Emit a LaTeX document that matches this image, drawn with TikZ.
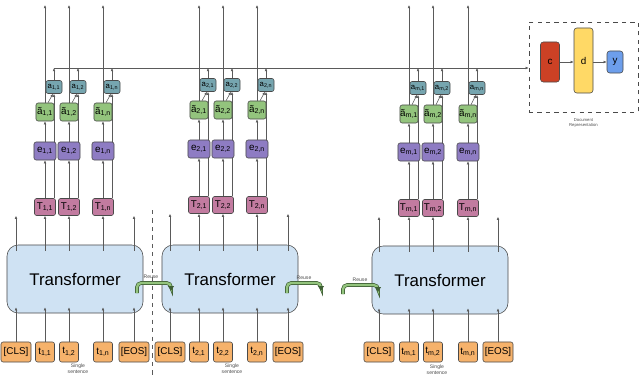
\documentclass[tikz,border=0pt]{standalone}
\usepackage{fontspec}
\setmainfont{Liberation Sans}
\usepackage{tikz}
\usetikzlibrary{arrows.meta,positioning,calc,backgrounds}

\definecolor{trblue}{HTML}{CFE2F3}
\definecolor{inorange}{HTML}{F6B26B}
\definecolor{tpink}{HTML}{C27BA0}
\definecolor{epurple}{HTML}{8E7CC3}
\definecolor{agreen}{HTML}{93C47D}
\definecolor{ateal}{HTML}{76A5AF}
\definecolor{cred}{HTML}{CC4125}
\definecolor{dyellow}{HTML}{FFD966}
\definecolor{yblue}{HTML}{6D9EEB}
\definecolor{bordr}{HTML}{4A4A4A}
\definecolor{linegray}{HTML}{5A5A5A}
\definecolor{ruedge}{HTML}{3F5F35}

\begin{document}
\begin{tikzpicture}[x=0.025cm,y=-0.025cm,
  trans/.style={draw=bordr,fill=trblue,rounded corners=8pt,minimum width=3.4cm,minimum height=1.7cm,font=\fontsize{12}{14}\selectfont},
  inp/.style={draw=bordr,fill=inorange,rounded corners=1.5pt,minimum height=0.5cm,minimum width=0.475cm,inner sep=0pt,font=\fontsize{7}{8}\selectfont},
  wide/.style={minimum width=0.75cm},
  tbox/.style={draw=bordr,fill=tpink,rounded corners=1.5pt,minimum width=0.525cm,minimum height=0.425cm,inner sep=0pt,font=\fontsize{7}{8}\selectfont},
  ebox/.style={draw=bordr,fill=epurple,rounded corners=1.5pt,minimum width=0.55cm,minimum height=0.45cm,inner sep=0pt,font=\fontsize{7}{8}\selectfont},
  atil/.style={draw=bordr,fill=agreen,rounded corners=1.5pt,minimum width=0.45cm,minimum height=0.45cm,inner sep=0pt,font=\fontsize{7}{8}\selectfont},
  abox/.style={draw=bordr,fill=ateal,rounded corners=1.5pt,minimum width=0.4cm,minimum height=0.325cm,inner sep=0pt,font=\fontsize{5.5}{6}\selectfont},
  docbox/.style={draw=bordr,dashed,minimum width=2.725cm,minimum height=2.25cm},
  outbox/.style={draw=bordr,rounded corners=2pt,minimum width=0.475cm,inner sep=0pt,font=\fontsize{7}{8}\selectfont},
  tiny/.style={align=center,text=black!70,font=\fontsize{3.6}{4.2}\selectfont},
  arrow/.style={-{Latex[length=0.8mm,width=0.7mm]},draw=linegray,line width=0.4pt},
  reuse/.style={draw=ruedge,double=agreen,double distance=1.6pt,line width=0.5pt,rounded corners=3pt,-{Latex[length=1.2mm,width=1.6mm]}}
]
\useasboundingbox (0,0) rectangle (640,375);
\coordinate (topline) at (0,5);
\coordinate (hline) at (0,68);

% sentence 1
\node[trans] (tr1) at (75,279) {Transformer};
\node[inp,wide] (cls1) at (16,352) {[CLS]};
\node[inp] (tok11) at (45,352) {t\textsubscript{1,1}};
\node[inp] (tok12) at (69,352) {t\textsubscript{1,2}};
\node[inp] (tok1n) at (103,352) {t\textsubscript{1,n}};
\node[inp,wide] (eos1) at (134,352) {[EOS]};
\node[tbox] (T11) at (45,207) {T\textsubscript{1,1}};
\node[tbox] (T12) at (69,207) {T\textsubscript{1,2}};
\node[tbox] (T1n) at (103,207) {T\textsubscript{1,n}};
\node[ebox] (e11) at (45,151) {e\textsubscript{1,1}};
\node[ebox] (e12) at (69,151) {e\textsubscript{1,2}};
\node[ebox] (e1n) at (103,151) {e\textsubscript{1,n}};
\node[atil] (at11) at (45,112) {ã\textsubscript{1,1}};
\node[atil] (at12) at (69,112) {ã\textsubscript{1,2}};
\node[atil] (at1n) at (103,112) {ã\textsubscript{1,n}};
\node[abox] (a11) at (54,87) {a\textsubscript{1,1}};
\node[abox] (a12) at (78,87) {a\textsubscript{1,2}};
\node[abox] (a1n) at (112,87) {a\textsubscript{1,n}};
\node[tiny] (ss1) at (78,369) {Single\\sentence};

% sentence 2
\node[trans] (tr2) at (230,279) {Transformer};
\node[inp,wide] (cls2) at (170,352) {[CLS]};
\node[inp] (tok21) at (199,352) {t\textsubscript{2,1}};
\node[inp] (tok22) at (223,352) {t\textsubscript{2,2}};
\node[inp] (tok2n) at (257,352) {t\textsubscript{2,n}};
\node[inp,wide] (eos2) at (288,352) {[EOS]};
\node[tbox] (T21) at (199,205) {T\textsubscript{2,1}};
\node[tbox] (T22) at (223,205) {T\textsubscript{2,2}};
\node[tbox] (T2n) at (257,205) {T\textsubscript{2,n}};
\node[ebox] (e21) at (199,149) {e\textsubscript{2,1}};
\node[ebox] (e22) at (223,149) {e\textsubscript{2,2}};
\node[ebox] (e2n) at (257,149) {e\textsubscript{2,n}};
\node[atil] (at21) at (199,110) {ã\textsubscript{2,1}};
\node[atil] (at22) at (223,110) {ã\textsubscript{2,2}};
\node[atil] (at2n) at (257,110) {ã\textsubscript{2,n}};
\node[abox] (a21) at (208,85) {a\textsubscript{2,1}};
\node[abox] (a22) at (232,85) {a\textsubscript{2,2}};
\node[abox] (a2n) at (266,85) {a\textsubscript{2,n}};
\node[tiny] (ss2) at (232,369) {Single\\sentence};

% sentence m
\node[trans] (trm) at (440,280) {Transformer};
\node[inp,wide] (clsm) at (379,352) {[CLS]};
\node[inp] (tokm1) at (409,352) {t\textsubscript{m,1}};
\node[inp] (tokm2) at (433,352) {t\textsubscript{m,2}};
\node[inp] (tokmn) at (468,352) {t\textsubscript{m,n}};
\node[inp,wide] (eosm) at (498,352) {[EOS]};
\node[tbox] (Tm1) at (409,208) {T\textsubscript{m,1}};
\node[tbox] (Tm2) at (433,208) {T\textsubscript{m,2}};
\node[tbox] (Tmn) at (468,208) {T\textsubscript{m,n}};
\node[ebox] (em1) at (409,152) {e\textsubscript{m,1}};
\node[ebox] (em2) at (433,152) {e\textsubscript{m,2}};
\node[ebox] (emn) at (468,152) {e\textsubscript{m,n}};
\node[atil] (atm1) at (409,114) {ã\textsubscript{m,1}};
\node[atil] (atm2) at (433,114) {ã\textsubscript{m,2}};
\node[atil] (atmn) at (468,114) {ã\textsubscript{m,n}};
\node[abox] (am1) at (418,88) {a\textsubscript{m,1}};
\node[abox] (am2) at (442,88) {a\textsubscript{m,2}};
\node[abox] (amn) at (477,88) {a\textsubscript{m,n}};
\node[tiny] (ssm) at (437,370) {Single\\sentence};

% document representation
\node[docbox] (doc) at (583.5,67) {};
\node[outbox,fill=cred,minimum height=1cm] (c) at (550,62) {c};
\node[outbox,fill=dyellow,minimum height=1.625cm] (d) at (583.5,60.5) {d};
\node[outbox,fill=yblue,minimum width=0.4cm,minimum height=0.55cm] (y) at (615,62) {y};
\node[tiny,font=\fontsize{3}{3.6}\selectfont,below=1pt of doc] (docl) {Document\\Representation};
\draw[arrow] (c) -- (c -| d.west);
\draw[arrow] (y -| d.east) -- (y);

% lines running behind the boxes
\begin{scope}[on background layer]
\foreach \T/\a in {T11/a11,T12/a12,T1n/a1n,T21/a21,T22/a22,T2n/a2n,Tm1/am1,Tm2/am2,Tmn/amn}
  \draw[arrow] (\a |- \T.north) -- (\a.south);
\end{scope}

% inputs into the encoders
\foreach \i/\t in {cls1/tr1,tok11/tr1,tok12/tr1,tok1n/tr1,eos1/tr1,cls2/tr2,tok21/tr2,tok22/tr2,tok2n/tr2,eos2/tr2,clsm/trm,tokm1/trm,tokm2/trm,tokmn/trm,eosm/trm}
  \draw[arrow] (\i) -- ($(\i |- \t.south)+(0,-6)$);
% [CLS] and [EOS] outputs
\foreach \i/\t/\h in {cls1/tr1/T11,eos1/tr1/T11,cls2/tr2/T21,eos2/tr2/T21,clsm/trm/Tm1,eosm/trm/Tm1}
  \draw[arrow] ($(\i |- \t.north)+(0,6)$) -- (\i |- \h.south);
% token stacks
\foreach \t/\T/\e/\at/\a/\tr in {tok11/T11/e11/at11/a11/tr1,tok12/T12/e12/at12/a12/tr1,tok1n/T1n/e1n/at1n/a1n/tr1,
  tok21/T21/e21/at21/a21/tr2,tok22/T22/e22/at22/a22/tr2,tok2n/T2n/e2n/at2n/a2n/tr2,
  tokm1/Tm1/em1/atm1/am1/trm,tokm2/Tm2/em2/atm2/am2/trm,tokmn/Tmn/emn/atmn/amn/trm}{
  \draw[arrow] ($(\T |- \tr.north)+(0,6)$) -- (\T);
  \draw[arrow] (\T) -- (\e);
  \draw[arrow] (\e) -- (\at);
  \draw[arrow] (\at) -- (\at |- topline);
  \draw[arrow] ($(\at.north)+(3,0)$) -- ($(\a.south)+(-1,0)$);
  \draw[arrow] (\a) -- (\a |- hline);
}
\draw[arrow] (a11 |- hline) -- (hline -| doc.west);

% reuse of the encoder
\coordinate (ru1) at (137,293);
\coordinate (ru1e) at (171,291);
\coordinate (ru2) at (287,293);
\coordinate (ru2e) at (321,291);
\coordinate (ru3) at (343,294);
\coordinate (ru3e) at (378,292);
\draw[reuse] (ru1) -- ++(0,-10) -| (ru1e);
\draw[reuse] (ru2) -- ++(0,-10) -| (ru2e);
\draw[reuse] (ru3) -- ++(0,-9) -| (ru3e);
\node[tiny] (rl1) at (151,277) {Reuse};
\node[tiny] (rl2) at (304,278) {Reuse};
\node[tiny] (rl3) at (360,280) {Reuse};

\draw[dashed,draw=linegray] (152,210) -- (152,375);
\end{tikzpicture}
\end{document}
